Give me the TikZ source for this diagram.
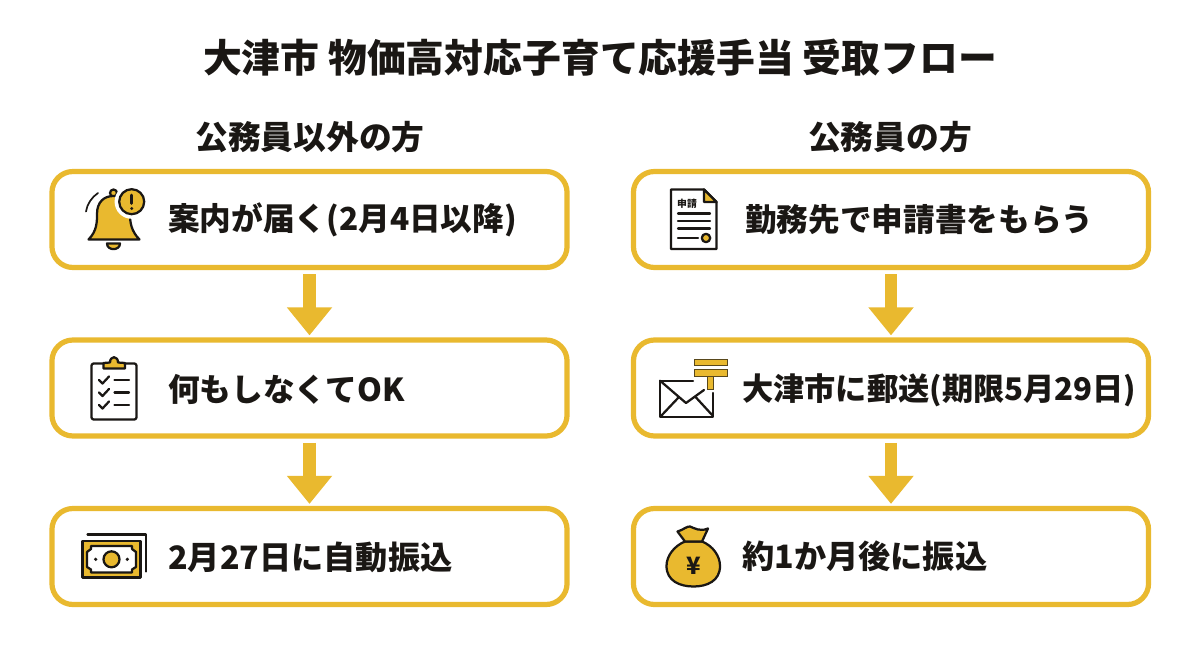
\documentclass[tikz,border=0pt]{standalone}
\usepackage{fontspec}
\setmainfont{Noto Sans CJK JP}
\usetikzlibrary{arrows.meta}
\definecolor{gold}{HTML}{E9B92F}
\definecolor{ink}{HTML}{1A1714}
\tikzset{
  flowbox/.style={draw=gold, line width=3.7pt, rounded corners=15pt, fill=white, minimum width=515\pxu, minimum height=96\pxu, inner sep=0pt},
  flowarrow/.style={draw=gold, line width=9pt, -{Triangle[width=31pt,length=20pt]}, shorten <=3pt, shorten >=1.4pt},
  boxtext/.style={anchor=west, inner sep=0pt, text=ink, font=\fontsize{22.5}{26}\selectfont\bfseries},
  headtext/.style={inner sep=0pt, text=ink, font=\fontsize{23.3}{27}\selectfont\bfseries},
  icon/.style={draw=ink, line width=1.6pt, line join=round, line cap=round},
}
\newlength{\pxu}
\setlength{\pxu}{0.7113pt}
\begin{document}
\begin{tikzpicture}[x=0.025cm,y=-0.025cm]
    \useasboundingbox (0,0) rectangle (1200,655);

    \node[inner sep=0pt, text=ink, font=\fontsize{27.6}{32}\selectfont\bfseries] (title) at (600,58) {大津市 物価高対応子育て応援手当 受取フロー};
    \node[headtext] (headl) at (310,137) {公務員以外の方};
    \node[headtext] (headr) at (890,137) {公務員の方};

    \node[flowbox] (l1) at (309.5,219.5) {};
    \node[flowbox] (l2) at (309.5,388) {};
    \node[flowbox] (l3) at (309.5,556.5) {};
    \node[flowbox] (r1) at (891,219.5) {};
    \node[flowbox] (r2) at (891,388) {};
    \node[flowbox] (r3) at (891,556.5) {};

    \draw[flowarrow] (l1) -- (l2);
    \draw[flowarrow] (l2) -- (l3);
    \draw[flowarrow] (r1) -- (r2);
    \draw[flowarrow] (r2) -- (r3);

    \node[boxtext] (tl1) at (168,220) {案内が届く(2月4日以降)};
    \node[boxtext] (tl2) at (168,389) {何もしなくてOK};
    \node[boxtext, font=\fontsize{22.9}{26}\selectfont\bfseries] (tl3) at (168,557) {2月27日に自動振込};
    \node[boxtext] (tr1) at (745,219) {勤務先で申請書をもらう};
    \node[boxtext, font=\fontsize{22.2}{26}\selectfont\bfseries] (tr2) at (742,390) {大津市に郵送(期限5月29日)};
    \node[boxtext, font=\fontsize{22.9}{26}\selectfont\bfseries] (tr3) at (742,556) {約1か月後に振込};

    % bell
    \draw[icon, fill=gold] (113.5,193) circle (3.5);
    \draw[icon, fill=gold] (88.5,239.5) .. controls (97,231) and (97,222) .. (97,214) .. controls (97,202) and (104,196) .. (113.5,196) .. controls (123,196) and (130,202) .. (130,214) .. controls (130,222) and (131,231) .. (139.5,239.5) -- cycle;
    \draw[icon, fill=gold] (107,243.5) -- (120,243.5) .. controls (120,251) and (107,251) .. (107,243.5) -- cycle;
    \draw[icon, line width=1.2pt] (86,211.5) .. controls (87,204) and (92,197) .. (98,193);
    \draw[white, line width=3pt, fill=gold] (131.7,201.7) circle (15);
    \draw[icon, fill=gold] (131.7,201.7) circle (12.5);
    \draw[ink, line width=1.8pt, line cap=round] (131.7,195) -- (131.7,203.5);
    \fill[ink] (131.7,208.5) circle (1.7);

    % clipboard
    \draw[icon, rounded corners=1.5pt] (91.5,363.5) rectangle (136.5,419.5);
    \draw[icon, fill=gold] (103.5,368.5) -- (103.5,363) -- (110,362.5) .. controls (110,355.5) and (118,355.5) .. (118,362.5) -- (125,363) -- (125,368.5) -- cycle;
    \foreach \y in {380,392.5,405} {
      \draw[icon] (99,\y) -- (102.5,\y+3.5) -- (109,\y-3.5);
      \draw[icon] (114.5,\y) -- (129,\y);
    }

    % bank note
    \draw[icon] (87.5,534.5) -- (146,534.5) -- (146,571.5);
    \draw[icon, fill=gold] (82.5,541) rectangle (140.5,577.5);
    \draw[icon, fill=white] (91,546) -- (132,546) -- (132,549) -- (136,552) -- (136,567) -- (132,569.5) -- (132,572.5) -- (91,572.5) -- (91,569.5) -- (87,567) -- (87,552) -- (91,549) -- cycle;
    \draw[icon, fill=gold] (111.5,559.3) circle (8);
    \fill[ink] (95.7,559.3) circle (1.8);
    \fill[ink] (127.3,559.3) circle (1.8);

    % form
    \draw[icon, fill=white] (671,189.5) -- (704,189.5) -- (716.5,202) -- (716.5,249) -- (671,249) -- cycle;
    \draw[icon, fill=gold] (704,189.5) -- (716.5,202) -- (704,202) -- cycle;
    \node[inner sep=0pt, text=ink, font=\fontsize{7}{8}\selectfont\bfseries] (formtext) at (687,203.5) {申請};
    \foreach \y in {213.5,221,228.5} \draw[icon] (678,\y) -- (710,\y);
    \draw[icon] (678,238) -- (698,238);
    \draw[icon, fill=gold] (706,238) circle (4.2);

    % envelope
    \draw[icon] (693,380.7) -- (660,380.7) -- (660,416.7) -- (713.3,416.7) -- (713.3,393);
    \draw[icon] (660,380.7) -- (686,403) -- (704,390);
    \draw[icon] (661,416) -- (678.5,397.5);
    \draw[icon] (713,416) -- (696,397.5);
    \draw[draw=ink!70!gold, line width=0.7pt, fill=gold] (694,359) rectangle (727.3,365.5);
    \draw[draw=ink!70!gold, line width=0.7pt, fill=gold] (694,369.5) rectangle (727.3,376);
    \draw[draw=ink!70!gold, line width=0.7pt, fill=gold] (707,376) rectangle (713.5,389.5);

    % money bag
    \draw[icon, fill=gold] (685,541.5) .. controls (674,546) and (666.5,556) .. (666.5,566) .. controls (666.5,581) and (680,586.5) .. (693.5,586.5) .. controls (707,586.5) and (720,581) .. (720,566) .. controls (720,556) and (713,546) .. (702,541.5) -- cycle;
    \draw[icon, fill=gold] (685,541.5) -- (677.5,531.5) .. controls (683,530) and (687,526) .. (690,526.5) .. controls (694,528) and (700,532) .. (708,528.5) -- (702,541.5) -- cycle;
    \node[inner sep=0pt, text=ink, font=\fontsize{17}{20}\selectfont\bfseries] (yen) at (693.5,566) {¥};
\end{tikzpicture}
\end{document}
